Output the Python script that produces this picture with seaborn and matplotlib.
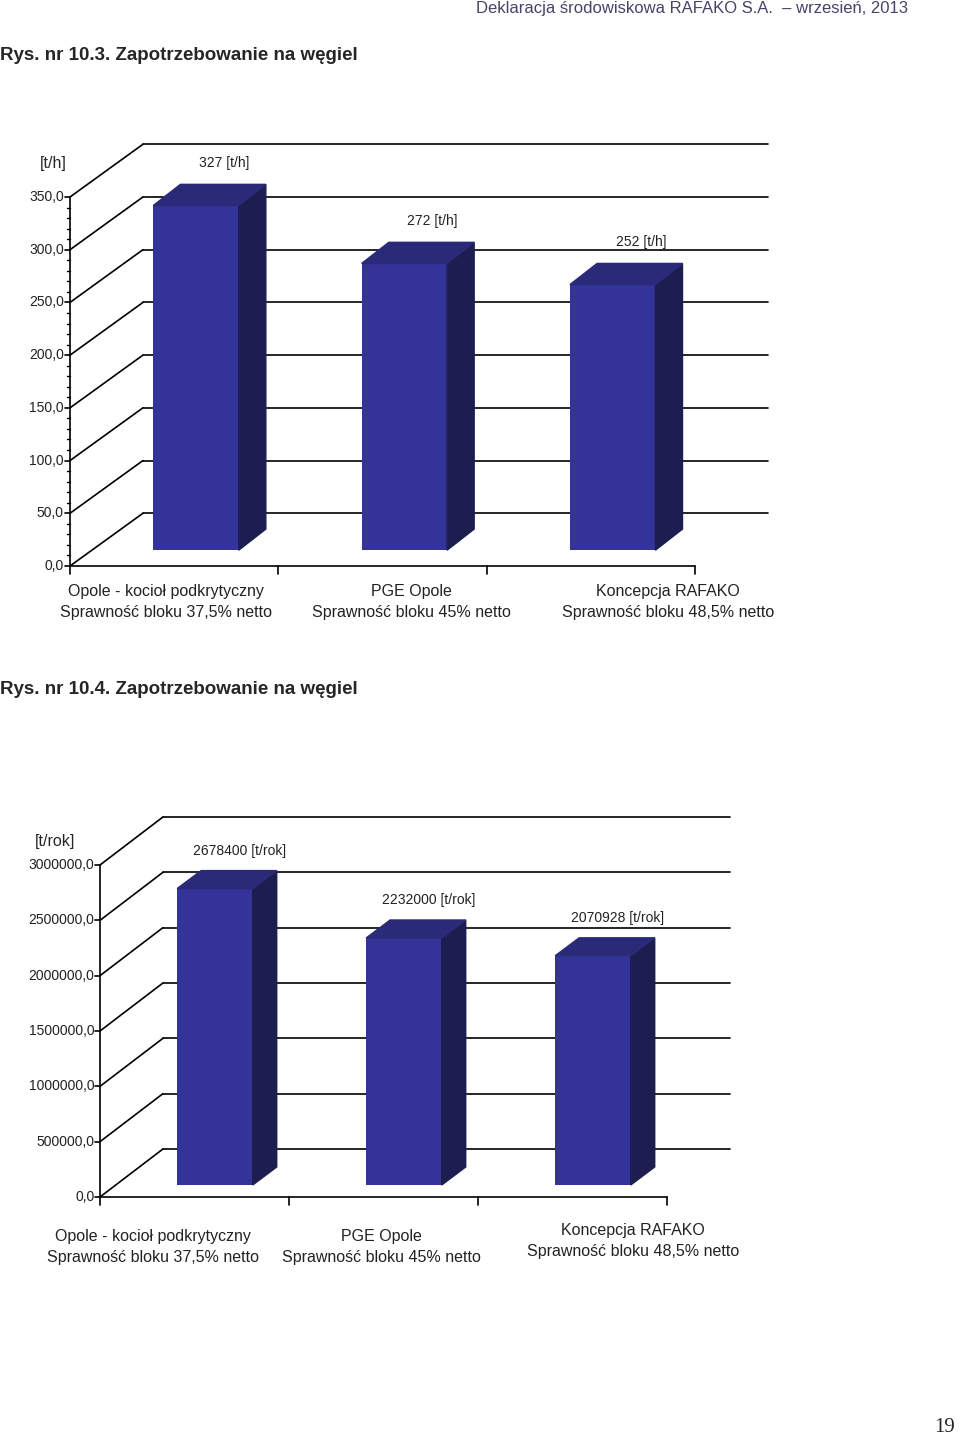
import matplotlib
matplotlib.use("Agg")
import matplotlib.pyplot as plt
from matplotlib.patches import Polygon
import seaborn as sns

# data
CATEGORIES = [
    "Opole - kocioł podkrytyczny\nSprawność bloku 37,5% netto",
    "PGE Opole\nSprawność bloku 45% netto",
    "Koncepcja RAFAKO\nSprawność bloku 48,5% netto",
]
HOURLY_VALUES = [327, 272, 252]
HOURLY_LABELS = ["327 [t/h]", "272 [t/h]", "252 [t/h]"]
HOURLY_TICKS = [0, 50, 100, 150, 200, 250, 300, 350]
ANNUAL_VALUES = [2678400, 2232000, 2070928]
ANNUAL_LABELS = ["2678400 [t/rok]", "2232000 [t/rok]", "2070928 [t/rok]"]
ANNUAL_TICKS = [0, 500000, 1000000, 1500000, 2000000, 2500000, 3000000]

FRONT = "#333399"
SIDE = "#1d1d4f"
TOP = "#2a2a78"
FONT = "Liberation Sans"

W, H = 960, 1438
sns.set_theme(style="white", font=FONT)
fig = plt.figure(figsize=(W / 100, H / 100), dpi=100)


def px_axes(left, right, bottom, top):
    return fig.add_axes([left / W, 1 - bottom / H, (right - left) / W, (bottom - top) / H])


def draw_chart(ax, values, vlabels, ticks, unit, minor, geo):
    ymax = ticks[-1]
    back_dx, back_dy = geo["back_dx"], geo["back_dy"] * ymax
    off_x, off_y = geo["off_x"], geo["off_y"] * ymax
    dep_x, dep_y = geo["dep_x"], geo["dep_y"] * ymax
    xs = [i + off_x for i in range(len(values))]
    sns.barplot(x=xs, y=values, native_scale=True, width=geo["width"],
                color=FRONT, saturation=1, ax=ax, linewidth=0, zorder=3)
    ax.set_xlim(-0.5, 2.5)
    ax.set_ylim(0, ymax)
    ax.axis("off")
    for p, v in zip(ax.patches, values):
        p.set_y(off_y)
        p.set_clip_on(False)
        x0, x1 = p.get_x(), p.get_x() + p.get_width()
        top = off_y + v
        ax.add_patch(Polygon([(x1, off_y), (x1 + dep_x, off_y + dep_y), (x1 + dep_x, top + dep_y), (x1, top)],
                             closed=True, color=SIDE, clip_on=False, zorder=3))
        ax.add_patch(Polygon([(x0, top), (x0 + dep_x, top + dep_y), (x1 + dep_x, top + dep_y), (x1, top)],
                             closed=True, color=TOP, clip_on=False, zorder=3))
    # grid walls
    lw = 1.2
    for t in ticks:
        ax.plot([-0.5, -0.5 + back_dx], [t, t + back_dy], color="black", lw=lw, clip_on=False, zorder=1)
        ax.plot([-0.5 + back_dx, 2.5 + back_dx], [t + back_dy, t + back_dy], color="black", lw=lw,
                clip_on=False, zorder=1)
    ax.plot([-0.5, -0.5], [0, ymax], color="black", lw=lw, clip_on=False)
    ax.plot([-0.5, 2.5], [0, 0], color="black", lw=lw, clip_on=False)
    # y ticks
    tick_w = 0.025
    for t in ticks:
        ax.plot([-0.5 - tick_w, -0.5], [t, t], color="black", lw=lw, clip_on=False)
        ax.text(-0.5 - tick_w - 0.005, t, f"{t:.1f}".replace(".", ","), ha="right", va="center",
                fontsize=10, family=FONT, color="#222222")
    if minor:
        m = minor
        while m < ymax:
            if m % (ticks[1] - ticks[0]):
                ax.plot([-0.5 - tick_w * 0.6, -0.5], [m, m], color="black", lw=1, clip_on=False)
            m += minor
    for i in range(4):
        ax.plot([i - 0.5, i - 0.5], [0, -geo["xtick"] * ymax], color="black", lw=lw, clip_on=False)
    ax.text(geo["unit_x"], geo["unit_y"] * ymax, unit, ha="center", va="center", fontsize=11.5, family=FONT)
    for i, (v, lab) in enumerate(zip(values, vlabels)):
        ax.text(i + geo["lab_x"], v + geo["lab_y"] * ymax, lab, ha="center", va="center",
                fontsize=10, family=FONT, color="#222222")
    for i, c in enumerate(CATEGORIES):
        ax.text(geo["cat_x"][i], geo["cat_y"][i] * ymax, c, ha="center", va="top",
                fontsize=11.5, family=FONT, linespacing=1.5, color="#222222")


ax1 = px_axes(70, 695, 566, 197)
draw_chart(ax1, HOURLY_VALUES, HOURLY_LABELS, HOURLY_TICKS, "[t/h]", 10, dict(
    back_dx=0.35, back_dy=50 / 350, off_x=0.105, off_y=15 / 350, dep_x=0.13, dep_y=20 / 350,
    width=0.41, lab_x=0.24, lab_y=55 / 350, xtick=8 / 369, unit_x=-0.58, unit_y=1.09,
    cat_x=[-0.04, 1.14, 2.37], cat_y=[-0.05, -0.05, -0.05]))

ax2 = px_axes(100, 667, 1197, 865)
draw_chart(ax2, ANNUAL_VALUES, ANNUAL_LABELS, ANNUAL_TICKS, "[t/rok]", None, dict(
    back_dx=0.333, back_dy=48 / 332, off_x=0.108, off_y=12 / 332, dep_x=0.127, dep_y=18 / 332,
    width=0.40, lab_x=0.24, lab_y=450000 / 3000000, xtick=8 / 332, unit_x=-0.74, unit_y=1.072,
    cat_x=[-0.22, 0.99, 2.32], cat_y=[-0.095, -0.095, -0.077]))

fig.text(908 / W, 1 - 8 / H, "Deklaracja środowiskowa RAFAKO S.A.  – wrzesień, 2013", ha="right",
         va="center", fontsize=12, family=FONT, color="#44446a")
fig.text(0, 1 - 55 / H, "Rys. nr 10.3. Zapotrzebowanie na węgiel", ha="left", va="center",
         fontsize=13.5, fontweight="bold", family=FONT)
fig.text(0, 1 - 689 / H, "Rys. nr 10.4. Zapotrzebowanie na węgiel", ha="left", va="center",
         fontsize=13.5, fontweight="bold", family=FONT)
fig.text(945 / W, 1 - 1428 / H, "19", ha="center", va="center", fontsize=15, family="Liberation Serif")

fig.savefig("out.png", dpi=100, facecolor="white")
